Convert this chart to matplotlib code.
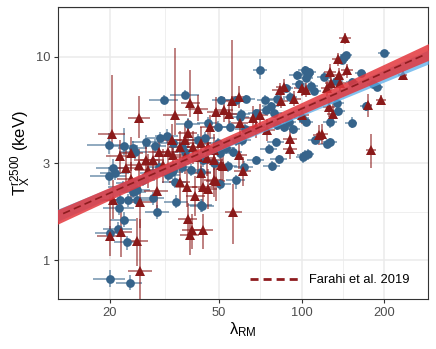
import numpy as np
import matplotlib
matplotlib.use("Agg")
import matplotlib.pyplot as plt
from matplotlib.lines import Line2D

plt.rcParams['font.family'] = ['Liberation Sans', 'DejaVu Sans']
plt.rcParams['mathtext.fontset'] = 'custom'
plt.rcParams['mathtext.rm'] = 'Liberation Sans'
plt.rcParams['mathtext.it'] = 'Liberation Sans:italic'

# ---------------- data ----------------
blue_lam = [20.0, 23.6, 20.0, 21.4, 23.0, 22.5, 21.6, 29.8, 34.9, 43.4, 19.9, 20.6, 19.9, 22.5, 24.3, 24.6,
            27.1, 29.2, 30.4, 32.3, 31.6, 37.7, 38.6, 25.0, 25.0, 24.0, 28.7, 33.7, 34.5, 42.8, 44.4, 45.5,
            50.5, 51.0, 57.6, 54.6, 57.5, 62.5, 61.5, 54.0, 68.0, 68.4, 70.5, 73.6, 73.8, 75.8, 78.0, 80.6,
            82.5, 81.0, 79.0, 86.0, 90.0, 93.0, 96.0, 103.0, 106.6, 104.0, 98.0, 108.0, 102.6, 105.0, 104.0,
            112.0, 124.0, 127.0, 127.0, 121.0, 134.0, 136.0, 142.0, 145.0, 140.0, 153.0, 152.0, 164.0, 182.0,
            188.0, 172.0, 199.0, 133.0, 111.0, 105.0, 101.0, 100.0, 60.0, 34.0, 36.5, 37.6, 41.8, 32.6, 34.0,
            36.5, 39.6, 42.8, 43.8, 47.7, 49.7, 50.4, 53.0, 56.0, 57.5, 60.6, 62.2, 30.2, 28.7, 26.4, 24.3,
            22.3, 20.9, 21.7, 23.3, 91.0, 88.0, 81.0, 77.0, 49.7, 59.6]
blue_T = [0.81, 0.77, 1.36, 1.42, 1.22, 1.58, 1.80, 1.72, 1.94, 1.85, 2.60, 2.84, 3.68, 3.64, 3.56, 3.41,
          3.82, 3.64, 3.96, 4.08, 6.14, 6.50, 4.65, 2.21, 1.97, 2.40, 2.01, 2.70, 2.42, 1.86, 3.97, 4.70,
          2.36, 6.13, 2.47, 4.53, 6.13, 6.20, 2.88, 2.89, 3.11, 5.27, 8.63, 6.14, 5.45, 3.53, 2.91, 3.81,
          3.13, 4.60, 5.30, 4.50, 4.80, 4.40, 8.10, 8.60, 8.40, 7.90, 7.30, 7.20, 3.29, 3.33, 4.80,
          3.90, 3.73, 3.81, 4.77, 7.98, 5.90, 5.40, 10.0, 10.2, 9.60, 7.50, 4.72, 8.30, 7.30,
          7.10, 5.70, 10.4, 7.60, 6.80, 8.25, 3.21, 4.97, 5.25, 3.75, 3.61, 3.41, 3.89, 2.62, 2.77,
          2.88, 2.77, 2.72, 3.10, 2.99, 3.75, 3.35, 3.54, 3.41, 3.89, 3.89, 4.40, 2.88, 2.67, 2.48, 2.17,
          2.29, 2.67, 1.97, 1.97, 6.35, 7.00, 6.20, 5.70, 4.53, 5.07]
blue_xe = [.13, .11, .12, .12, .10, .11, .13, .10, .10, .10, .15, .14, .17, .12, .12, .12,
           .11, .10, .10, .10, .12, .12, .10, .12, .12, .12, .10, .10, .10, .10, .09, .09,
           .09, .08, .08, .08, .08, .08, .08, .08, .07, .07, .06, .07, .07, .07, .07, .07,
           .07, .07, .07, .06, .06, .06, .06, .06, .06, .06, .06, .06, .06, .06, .06,
           .06, .06, .06, .06, .06, .06, .06, .05, .05, .05, .05, .05, .05, .05,
           .05, .05, .05, .06, .06, .06, .06, .06, .08, .10, .10, .10, .09, .10, .10,
           .10, .10, .09, .09, .09, .09, .09, .08, .08, .08, .08, .08, .10, .10, .11, .11,
           .12, .12, .12, .12, .06, .06, .07, .07, .09, .08]
blue_ylo = [.09, .08, .08, .08, .08, .08, .08, .07, .07, .07, .10, .10, .10, .10, .08, .08,
            .08, .08, .08, .08, .05, .05, .07, .07, .07, .07, .07, .07, .07, .07, .07, .07,
            .06, .05, .10, .06, .05, .05, .06, .06, .05, .05, .10, .05, .05, .05, .06, .05,
            .05, .05, .05, .05, .05, .05, .05, .05, .05, .05, .05, .05, .07, .07, .05,
            .05, .05, .05, .06, .05, .05, .05, .04, .04, .04, .05, .06, .04, .04,
            .04, .05, .04, .05, .05, .05, .06, .05, .05, .07, .07, .07, .07, .07, .07,
            .07, .07, .07, .07, .07, .06, .06, .06, .06, .06, .06, .06, .07, .07, .07, .07,
            .07, .07, .07, .07, .05, .05, .05, .05, .06, .05]
blue_yhi = [.10, .09, .08, .08, .08, .09, .09, .08, .08, .08, .10, .10, .15, .22, .08, .08,
            .08, .08, .08, .08, .05, .06, .07, .07, .07, .07, .07, .07, .07, .07, .07, .07,
            .06, .05, .06, .06, .05, .05, .06, .06, .05, .05, .13, .05, .05, .05, .06, .05,
            .05, .05, .05, .05, .05, .05, .05, .05, .05, .05, .05, .05, .06, .06, .05,
            .05, .05, .05, .06, .05, .05, .05, .04, .04, .04, .05, .07, .04, .04,
            .04, .05, .04, .05, .05, .05, .06, .05, .05, .07, .07, .07, .07, .07, .07,
            .07, .07, .07, .07, .07, .06, .06, .06, .06, .06, .06, .06, .07, .07, .07, .07,
            .07, .07, .07, .07, .05, .05, .05, .05, .06, .05]

red_lam = [20.4, 25.6, 34.6, 39.3, 42.0, 48.9, 52.2, 55.5, 59.3, 54.5, 59.6, 46.2, 66.3, 70.6, 68.4, 74.5,
           38.6, 21.7, 22.9, 23.9, 25.6, 56.4, 39.1, 39.7, 43.8, 38.5, 41.0, 45.4, 48.6, 51.5, 60.9, 59.2,
           25.8, 20.0, 21.9, 25.0, 25.8, 29.6, 20.5, 144.0, 136.0, 146.0, 127.0, 137.0, 128.0, 138.0, 124.0,
           233.0, 195.0, 174.0, 126.0, 130.0, 116.0, 119.0, 179.0, 86.0, 83.0, 84.0, 94.0, 91.0, 91.0,
           100.0, 104.0, 100.0, 33.6, 36.0, 37.6, 40.2, 42.8, 45.7, 47.7, 32.6, 30.2, 34.0, 37.6, 41.8,
           45.1, 47.7, 51.0, 27.1, 28.7, 31.3, 38.2, 36.0, 27.5, 23.9, 42.8, 47.7, 43.8]
red_T = [4.18, 5.00, 5.15, 5.93, 5.55, 5.37, 5.47, 6.06, 6.32, 5.22, 4.72, 4.51, 5.00, 5.15, 4.53, 4.35,
         4.20, 3.23, 2.84, 2.50, 2.94, 1.72, 1.33, 1.41, 1.41, 1.59, 2.06, 2.24, 2.44, 2.89, 2.73, 3.30,
         0.88, 1.31, 1.38, 1.24, 1.92, 2.18, 1.98, 12.3, 9.70, 8.57, 8.40, 8.10, 7.40, 7.40, 6.98,
         8.10, 6.14, 5.76, 5.64, 5.25, 4.10, 4.15, 3.46, 7.10, 6.85, 6.06, 6.20, 3.95, 3.50,
         7.00, 6.85, 5.17, 3.89, 3.61, 3.89, 3.61, 3.75, 3.61, 3.47, 3.41, 3.41, 3.28, 3.22, 3.22,
         3.16, 3.10, 2.93, 3.10, 3.10, 2.93, 2.29, 2.43, 2.77, 3.35, 2.67, 2.48, 2.29]
red_xe = [.11, .09, .10, .08, .08, .08, .08, .07, .07, .07, .07, .08, .07, .07, .07, .07,
          .08, .11, .11, .11, .10, .07, .08, .08, .08, .08, .08, .08, .08, .08, .07, .07,
          .10, .10, .10, .10, .10, .10, .10, .05, .05, .05, .05, .05, .05, .05, .05,
          .04, .04, .04, .05, .05, .05, .05, .04, .06, .06, .06, .06, .06, .06,
          .06, .06, .06, .09, .09, .09, .09, .09, .09, .08, .09, .09, .09, .09, .09,
          .08, .08, .08, .10, .10, .10, .09, .09, .10, .10, .09, .08, .09]
red_ylo = [.15, .20, .20, .15, .13, .15, .13, .16, .11, .13, .13, .13, .12, .12, .12, .12,
           .15, .18, .18, .20, .18, .30, .20, .20, .20, .20, .20, .20, .20, .18, .15, .15,
           .30, .20, .25, .25, .25, .20, .20, .06, .07, .08, .08, .08, .08, .08, .08,
           .05, .05, .12, .10, .10, .10, .10, .18, .08, .08, .08, .08, .10, .10,
           .08, .08, .10, .18, .18, .18, .18, .18, .18, .18, .18, .18, .18, .18, .18,
           .18, .18, .18, .18, .18, .18, .20, .20, .18, .18, .18, .18, .20]
red_yhi = [.95, .28, 1.15, .45, .17, .18, .16, 1.00, .14, .15, .15, .15, .14, .14, .14, .14,
           .17, .20, .22, .22, .20, .37, .20, .20, .20, .20, .25, .25, .25, .20, .18, .18,
           .80, .57, .30, .30, .30, .25, .25, .06, .07, .08, .09, .09, .09, .08, .09,
           .05, .06, .14, .12, .12, .12, .12, .21, .09, .09, .09, .09, .12, .12,
           .09, .09, .10, .20, .20, .20, .20, .20, .20, .20, .20, .20, .20, .20, .20,
           .20, .20, .20, .20, .20, .20, .22, .22, .20, .20, .20, .20, .22]

# fitted relations: T = norm * (lambda / pivot) ** slope
pivot = 70.0
red_norm, red_slope, red_hw0, red_hw1 = 4.50, 0.600, 0.026, 0.042
blue_norm, blue_slope, blue_hw0, blue_hw1 = 4.40, 0.576, 0.021, 0.036
farahi_norm, farahi_slope = 4.49, 0.593
farahi_range = (13.5, 281.0)
legend_label = "Farahi et al. 2019"

x_ticks = [20, 50, 100, 200]
y_ticks = [1, 3, 10]
x_lim = (12.93, 288.6)
y_lim = (0.643, 17.56)

# ---------------- colours ----------------
C_BLUE = '#36648B'
C_RED = '#8B1A1A'
C_BAND_RED = '#E3373D'
C_BAND_BLUE = '#5AAEEA'
C_DASH = '#8E1C1F'

fig = plt.figure(figsize=(4.36, 3.49), dpi=100)
ax = fig.add_axes([58 / 436, (349 - 299) / 349, 370 / 436, 292 / 349])
ax.set_xscale('log')
ax.set_yscale('log')
ax.set_xlim(*x_lim)
ax.set_ylim(*y_lim)


def draw_series(lam, T, xe, ylo, yhi, color, marker, ms):
    lam = np.array(lam); T = np.array(T)
    xe = np.array(xe); ylo = np.array(ylo); yhi = np.array(yhi)
    ax.errorbar(lam, T, xerr=lam * xe, yerr=[T * ylo, T * yhi], fmt='none',
                ecolor=color, elinewidth=1.1, alpha=0.7, capsize=0, zorder=3)
    ax.plot(lam, T, linestyle='none', marker=marker, ms=ms, color=color,
            markeredgewidth=0, zorder=4)


draw_series(blue_lam, blue_T, blue_xe, blue_ylo, blue_yhi, C_BLUE, 'o', 6.3)
draw_series(red_lam, red_T, red_xe, red_ylo, red_yhi, C_RED, '^', 7.2)

# bands
lx = np.logspace(np.log10(x_lim[0]) - 0.01, np.log10(x_lim[1]) + 0.01, 200)
dl = np.log10(lx) - np.log10(50.0)


def band(norm, slope, hw0, hw1, color, alpha, z):
    c = np.log10(norm) + slope * np.log10(lx / pivot)
    hw = np.sqrt(hw0 ** 2 + (hw1 * dl) ** 2)
    ax.fill_between(lx, 10 ** (c - hw), 10 ** (c + hw), color=color, alpha=alpha,
                    linewidth=0, zorder=z)


band(blue_norm, blue_slope, blue_hw0, blue_hw1, C_BAND_BLUE, 0.75, 5)
band(red_norm, red_slope, red_hw0, red_hw1, C_BAND_RED, 0.85, 6)

fx = np.logspace(np.log10(farahi_range[0]), np.log10(farahi_range[1]), 100)
fy = farahi_norm * (fx / pivot) ** farahi_slope
ax.plot(fx, fy, color=C_DASH, lw=1.2, dashes=(4.5, 2.5), zorder=7)

# grid / ticks
ax.set_xticks(x_ticks)
ax.set_xticklabels([str(v) for v in x_ticks])
ax.set_yticks(y_ticks)
ax.set_yticklabels([str(v) for v in y_ticks])
xminor = [np.sqrt(x_ticks[i] * x_ticks[i + 1]) for i in range(len(x_ticks) - 1)]
yminor = [np.sqrt(y_ticks[i] * y_ticks[i + 1]) for i in range(len(y_ticks) - 1)] + [np.sqrt(10 * 30)]
ax.set_xticks(xminor, minor=True)
ax.set_yticks(yminor, minor=True)
ax.xaxis.set_minor_formatter(matplotlib.ticker.NullFormatter())
ax.yaxis.set_minor_formatter(matplotlib.ticker.NullFormatter())
ax.grid(True, which='major', color='#EBEBEB', lw=1.1, zorder=0)
ax.grid(True, which='minor', color='#EBEBEB', lw=0.55, zorder=0)
ax.set_axisbelow(True)
ax.tick_params(which='major', length=3.2, width=0.8, color='#333333',
               labelsize=9.3, labelcolor='#4D4D4D', pad=2.5)
ax.tick_params(which='minor', length=0)
for s in ax.spines.values():
    s.set_color('#333333')
    s.set_linewidth(0.8)

ax.set_xlabel(r'$\mathrm{\lambda_{RM}}$', fontsize=12, va='center')
ax.xaxis.set_label_coords(0.5, (299 - 330) / 292)
ax.set_ylabel(r'$\mathrm{T_{X}^{r2500}}$ (keV)', fontsize=12, va='center', ha='center')
ax.yaxis.set_label_coords((20.5 - 58) / 370, 0.5)

h = Line2D([], [], color=C_DASH, lw=2.0, dashes=(2.9, 1.8))
leg = ax.legend(handles=[h], labels=[legend_label], loc='center left',
                bbox_to_anchor=((250 - 58) / 370, (299 - 280) / 292), frameon=False,
                fontsize=9.3, handlelength=3.8, handletextpad=0.8, borderpad=0, borderaxespad=0)

fig.savefig('out.png', dpi=100)
